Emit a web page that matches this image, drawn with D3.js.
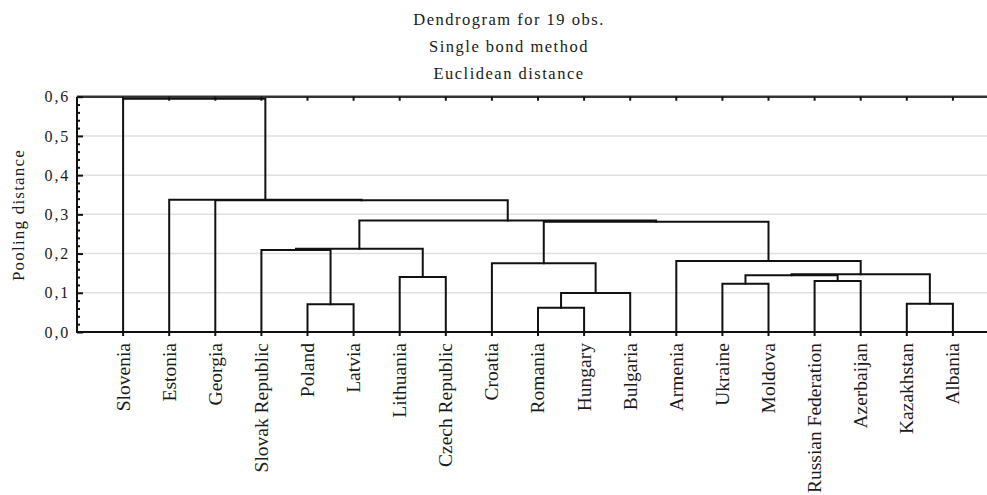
<!DOCTYPE html>
<html>
<head>
<meta charset="utf-8">
<script src="https://cdn.jsdelivr.net/npm/d3@7"></script>
<style>
  html, body { margin: 0; padding: 0; background: #fff; }
  svg { display: block; }
</style>
</head>
<body>
<svg id="chart" width="987" height="495" font-family="Liberation Serif"></svg>
<script>
// Leaf order along the x axis
const leaves = ["Slovenia", "Estonia", "Georgia", "Slovak Republic", "Poland", "Latvia",
  "Lithuania", "Czech Republic", "Croatia", "Romania", "Hungary", "Bulgaria", "Armenia",
  "Ukraine", "Moldova", "Russian Federation", "Azerbaijan", "Kazakhstan", "Albania"];

// Agglomeration steps: each joins two members (leaf name or earlier step "#k")
const merges = [
  ["Romania", "Hungary"],            // #0
  ["Poland", "Latvia"],              // #1
  ["Kazakhstan", "Albania"],         // #2
  ["#0", "Bulgaria"],                // #3
  ["Ukraine", "Moldova"],            // #4
  ["Russian Federation", "Azerbaijan"], // #5
  ["Lithuania", "Czech Republic"],   // #6
  ["#4", "#5"],                      // #7
  ["#7", "#2"],                      // #8
  ["Croatia", "#3"],                 // #9
  ["Armenia", "#8"],                 // #10
  ["Slovak Republic", "#1"],         // #11
  ["#11", "#6"],                     // #12
  ["#9", "#10"],                     // #13
  ["#12", "#13"],                    // #14
  ["Georgia", "#14"],                // #15
  ["Estonia", "#15"],                // #16
  ["Slovenia", "#16"]                // #17
];

// Pooling distance at which each step happens
const pooling = [0.062, 0.071, 0.072, 0.0995, 0.123, 0.130, 0.140, 0.1445, 0.147,
  0.175, 0.181, 0.209, 0.212, 0.281, 0.284, 0.336, 0.337, 0.595];

const yTicks = [0, 0.1, 0.2, 0.3, 0.4, 0.5, 0.6];
const titleLines = ["Dendrogram for 19 obs.", "Single bond method", "Euclidean distance"];
const yTitle = "Pooling distance";

const svg = d3.select("#chart");
const FONT = "Liberation Serif";
const ink = "#1a1a1a";
const plotLeft = 77, plotTop = 96.7, plotBottom = 332, plotRight = 999;

const x = d3.scalePoint().domain(leaves).range([plotLeft, plotRight]).padding(1);
const y = d3.scaleLinear().domain([0, 0.6]).range([plotBottom, plotTop]);

// Horizontal grid
svg.append("g").selectAll("line")
  .data(yTicks.filter(t => t > 0 && t < 0.6))
  .join("line")
  .attr("x1", plotLeft).attr("x2", 987)
  .attr("y1", d => y(d)).attr("y2", d => y(d))
  .attr("stroke", "#e0e0e0").attr("stroke-width", 1.5);

// Resolve positions of every member
const pos = {};
leaves.forEach(l => { pos[l] = { x: x(l), h: 0 }; });
const links = [];
merges.forEach((m, i) => {
  const a = pos[m[0]], b = pos[m[1]], h = pooling[i];
  links.push({ a, b, h });
  pos["#" + i] = { x: (a.x + b.x) / 2, h };
});

const tree = svg.append("g")
  .attr("fill", "none").attr("stroke", "#111").attr("stroke-width", 2)
  .attr("stroke-linecap", "square");
tree.selectAll("path").data(links).join("path")
  .attr("d", d => `M${d.a.x},${y(d.a.h)}V${y(d.h)}H${d.b.x}V${y(d.b.h)}`);

// Frame: left axis, bottom axis, top border
const frame = svg.append("g").attr("stroke", "#111").attr("stroke-width", 2);
frame.append("line").attr("x1", plotLeft).attr("x2", plotLeft).attr("y1", plotTop).attr("y2", plotBottom + 1);
frame.append("line").attr("x1", plotLeft).attr("x2", 987).attr("y1", plotBottom).attr("y2", plotBottom);
frame.append("line").attr("x1", plotLeft).attr("x2", 987).attr("y1", plotTop).attr("y2", plotTop)
  .attr("stroke", "#333").attr("stroke-width", 2.5);

// Leaf ticks on top and bottom borders
frame.selectAll(".tt").data(leaves).join("line").attr("class", "tt")
  .attr("x1", d => x(d)).attr("x2", d => x(d))
  .attr("y1", plotTop).attr("y2", plotTop + 4);
frame.selectAll(".bt").data(leaves).join("line").attr("class", "bt")
  .attr("x1", d => x(d)).attr("x2", d => x(d))
  .attr("y1", plotBottom).attr("y2", plotBottom + 4);

// Y axis ticks (major + minor, pointing inward)
const yAxis = d3.axisRight(y).tickValues(yTicks).tickSize(6).tickFormat("");
svg.append("g").attr("transform", `translate(${plotLeft},0)`).call(yAxis)
  .call(g => g.select(".domain").remove())
  .call(g => g.selectAll("line").attr("stroke", "#111").attr("stroke-width", 2));
const minor = d3.range(0, 0.6001, 0.02).filter(v => Math.abs(v * 10 - Math.round(v * 10)) > 1e-6);
const yMinor = d3.axisRight(y).tickValues(minor).tickSize(3).tickFormat("");
svg.append("g").attr("transform", `translate(${plotLeft},0)`).call(yMinor)
  .call(g => g.select(".domain").remove())
  .call(g => g.selectAll("line").attr("stroke", "#111").attr("stroke-width", 2));

// Y tick labels with comma decimals
svg.append("g").selectAll("text").data(yTicks).join("text")
  .attr("x", 70).attr("y", d => y(d)).attr("dy", "0.35em")
  .attr("text-anchor", "end").attr("font-size", 16).attr("letter-spacing", 1.8)
  .attr("font-family", FONT).attr("fill", ink)
  .text(d => d3.format(".1f")(d).replace(".", ","));

// Y title
svg.append("text")
  .attr("transform", "translate(24,215) rotate(-90)")
  .attr("text-anchor", "middle").attr("font-size", 17).attr("letter-spacing", 1.2)
  .attr("font-family", FONT).attr("fill", ink)
  .text(yTitle);

// Leaf labels
svg.append("g").selectAll("text").data(leaves).join("text")
  .attr("transform", d => `translate(${x(d)},${343}) rotate(-90)`)
  .attr("dy", "0.33em")
  .attr("text-anchor", "end").attr("font-size", 19.5)
  .attr("font-family", FONT).attr("fill", ink)
  .text(d => d);

// Title
svg.append("g").selectAll("text").data(titleLines).join("text")
  .attr("x", 509).attr("y", (d, i) => 25 + i * 27)
  .attr("text-anchor", "middle").attr("font-size", 16.5).attr("letter-spacing", 1.5)
  .attr("font-family", FONT).attr("fill", ink)
  .text(d => d);
</script>
</body>
</html>
